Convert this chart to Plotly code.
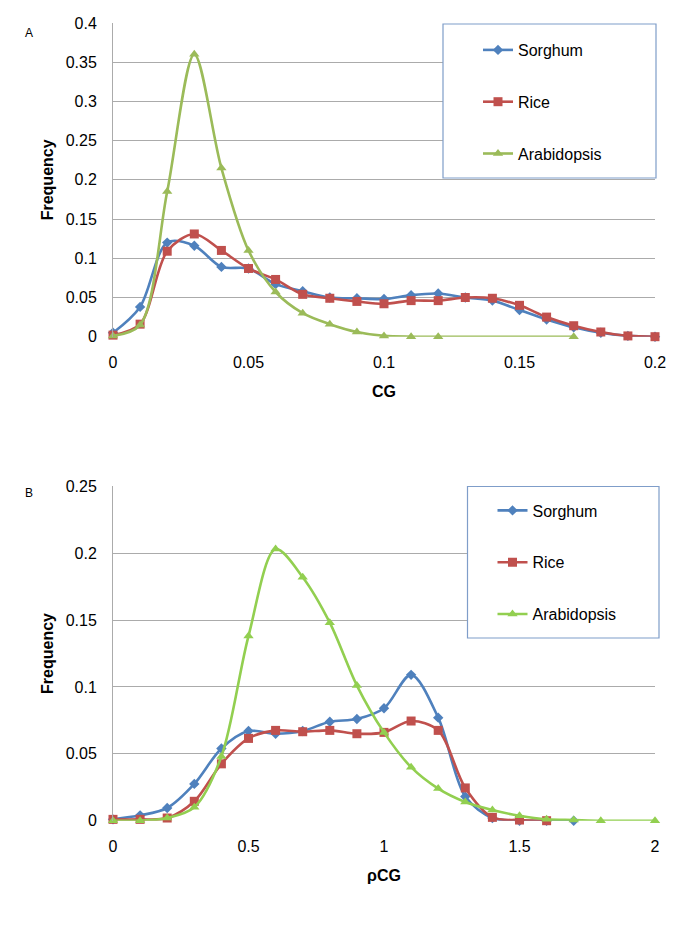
import plotly.graph_objects as go

# ---- data ----
cg_x = [0, 0.01, 0.02, 0.03, 0.04, 0.05, 0.06, 0.07, 0.08, 0.09, 0.10,
        0.11, 0.12, 0.13, 0.14, 0.15, 0.16, 0.17, 0.18, 0.19, 0.20]
cg_sorghum = [0.005, 0.038, 0.120, 0.116, 0.089, 0.087, 0.067, 0.058, 0.050, 0.049, 0.048,
              0.053, 0.055, 0.050, 0.046, 0.034, 0.022, 0.012, 0.005, 0.001, 0.0]
cg_rice = [0.002, 0.016, 0.109, 0.131, 0.110, 0.087, 0.073, 0.054, 0.049, 0.045, 0.042,
           0.046, 0.046, 0.050, 0.049, 0.040, 0.025, 0.014, 0.006, 0.001, 0.0]
cg_arab_x = [0, 0.01, 0.02, 0.03, 0.04, 0.05, 0.06, 0.07, 0.08, 0.09, 0.10, 0.11, 0.12, 0.17]
cg_arab = [0.001, 0.015, 0.185, 0.360, 0.215, 0.110, 0.057, 0.030, 0.016, 0.006, 0.001,
           0.0, 0.0, 0.0]

rcg_x = [0, 0.1, 0.2, 0.3, 0.4, 0.5, 0.6, 0.7, 0.8, 0.9, 1.0,
         1.1, 1.2, 1.3, 1.4, 1.5, 1.6, 1.7]
rcg_sorghum = [0.001, 0.004, 0.0095, 0.0275, 0.054, 0.067, 0.065, 0.067, 0.074, 0.076, 0.084,
               0.109, 0.077, 0.018, 0.002, 0.0, 0.0, 0.0]
rcg_rice_x = [0, 0.1, 0.2, 0.3, 0.4, 0.5, 0.6, 0.7, 0.8, 0.9, 1.0, 1.1, 1.2, 1.3, 1.4, 1.5, 1.6]
rcg_rice = [0.001, 0.001, 0.002, 0.0145, 0.0425, 0.0615, 0.0675, 0.0665, 0.0675, 0.065, 0.066,
            0.0745, 0.0675, 0.0245, 0.0025, 0.0005, 0.0]
rcg_arab_x = [0, 0.1, 0.2, 0.3, 0.4, 0.5, 0.6, 0.7, 0.8, 0.9, 1.0,
              1.1, 1.2, 1.3, 1.4, 1.5, 1.6, 1.7, 1.8, 2.0]
rcg_arab = [0.0, 0.0, 0.002, 0.010, 0.048, 0.138, 0.203, 0.182, 0.148, 0.101, 0.066,
            0.040, 0.024, 0.014, 0.008, 0.0037, 0.001, 0.0005, 0.0, 0.0]

W, H = 685, 941
FONT = "Liberation Sans, Arial, sans-serif"
BLUE, RED = "#4F81BD", "#C0504D"
GREEN_A, GREEN_B = "#9BBB59", "#92CF50"
GRID = "#ABABAB"
BOX = "#7F9DC9"


def px_x(v):
    # window pixel -> paper fraction
    return v / W


def px_y(v):
    return 1 - v / H


fig = go.Figure()


def add_series(x, y, name, color, symbol, size, xa, ya, legend):
    fig.add_trace(go.Scatter(
        x=x, y=y, name=name, xaxis=xa, yaxis=ya, legend=legend,
        legendgroup=legend + name,
        mode="lines+markers", line=dict(color=color, width=2.6, shape="spline", smoothing=0.9),
        marker=dict(symbol=symbol, size=size, color=color),
        cliponaxis=False,
    ))


add_series(cg_x, cg_sorghum, "Sorghum", BLUE, "diamond", 8, "x", "y", "legend")
add_series(cg_x, cg_rice, "Rice", RED, "square", 9, "x", "y", "legend")
add_series(cg_arab_x, cg_arab, "Arabidopsis", GREEN_A, "triangle-up", 9, "x", "y", "legend")

add_series(rcg_x, rcg_sorghum, "Sorghum", BLUE, "diamond", 8, "x2", "y2", "legend2")
add_series(rcg_rice_x, rcg_rice, "Rice", RED, "square", 9, "x2", "y2", "legend2")
add_series(rcg_arab_x, rcg_arab, "Arabidopsis", GREEN_B, "triangle-up", 9, "x2", "y2", "legend2")

tickfont = dict(family=FONT, size=16, color="#000")
titlefont = dict(family=FONT, size=16, color="#000", weight="bold")

# automargin off: otherwise plotly grows the margins and the domains drift
xcommon = dict(showgrid=False, zeroline=False, showline=False, ticks="",
               tickfont=tickfont, ticklabelstandoff=14, automargin=False)
ycommon = dict(showgrid=True, gridcolor=GRID, gridwidth=1, zeroline=False,
               showline=True, linecolor=GRID, linewidth=1, ticks="",
               tickfont=tickfont, ticklabelstandoff=12, automargin=False)

fig.update_layout(
    width=W, height=H,
    margin=dict(l=0, r=0, t=0, b=0),
    paper_bgcolor="white", plot_bgcolor="white",
    font=dict(family=FONT, color="#000"),
    xaxis=dict(domain=[px_x(113), px_x(655)], range=[0, 0.2], dtick=0.05, anchor="y",
               title=dict(text="CG", font=titlefont, standoff=16), **xcommon),
    yaxis=dict(domain=[px_y(336.7), px_y(23)], range=[0, 0.4], dtick=0.05, anchor="x",
               title=dict(text="Frequency", font=titlefont, standoff=8), **ycommon),
    xaxis2=dict(domain=[px_x(113), px_x(655)], range=[0, 2], dtick=0.5, anchor="y2",
                title=dict(text="ρCG", font=titlefont, standoff=16), **xcommon),
    yaxis2=dict(domain=[px_y(820.7), px_y(486.2)], range=[0, 0.25], dtick=0.05, anchor="x2",
                title=dict(text="Frequency", font=titlefont, standoff=8), **ycommon),
    legend=dict(x=px_x(478), y=px_y(33), xanchor="left", yanchor="top",
                bgcolor="rgba(0,0,0,0)", borderwidth=0, tracegroupgap=28,
                font=dict(family=FONT, size=16, color="#000")),
    legend2=dict(x=px_x(492.5), y=px_y(493.5), xanchor="left", yanchor="top",
                 bgcolor="rgba(0,0,0,0)", borderwidth=0, tracegroupgap=28,
                 font=dict(family=FONT, size=16, color="#000")),
    showlegend=True,
)

# legend frames (white, covering the gridlines like in the original)
fig.add_shape(type="rect", xref="paper", yref="paper", layer="above",
              x0=px_x(443), x1=px_x(656), y0=px_y(178), y1=px_y(24),
              line=dict(color=BOX, width=1.2), fillcolor="white")
fig.add_shape(type="rect", xref="paper", yref="paper", layer="above",
              x0=px_x(467.5), x1=px_x(659), y0=px_y(638), y1=px_y(486.5),
              line=dict(color=BOX, width=1.2), fillcolor="white")

# panel letters
for letter, yy in (("A", 32.5), ("B", 492.5)):
    fig.add_annotation(text=letter, xref="paper", yref="paper", x=px_x(28.5), y=px_y(yy),
                       xanchor="center", yanchor="middle", showarrow=False,
                       font=dict(family=FONT, size=12, color="#000"))

# drop the default body margin so the figure sits at the window's top-left corner
fig.write_html("out.html", config={"displayModeBar": False},
               post_script="document.body.style.margin='0';document.body.style.overflow='hidden';")
